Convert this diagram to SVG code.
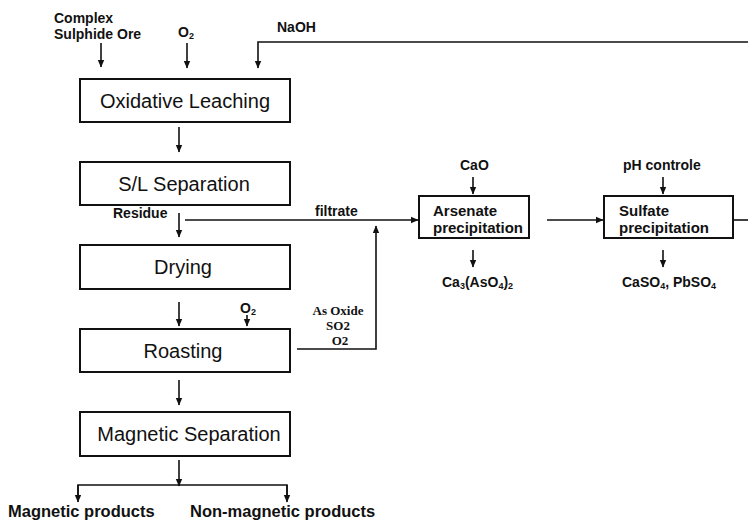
<svg xmlns="http://www.w3.org/2000/svg" width="748" height="526" viewBox="0 0 748 526">
<defs>
<marker id="ah" markerWidth="8" markerHeight="8" refX="7" refY="4" orient="auto" markerUnits="userSpaceOnUse">
<path d="M0,0.8 L7.5,4 L0,7.2 Z" fill="#111"/>
</marker>
<style>
.box{fill:#fff;stroke:#111;stroke-width:2}
.bt{font-family:"Liberation Sans",Arial,sans-serif;font-size:20px;fill:#111;text-anchor:middle}
.lb{font-family:"Liberation Sans",Arial,sans-serif;font-size:14px;font-weight:bold;fill:#111}
.pt{font-family:"Liberation Sans",Arial,sans-serif;font-size:15px;font-weight:bold;fill:#111}
.sf{font-family:"Liberation Serif","Times New Roman",serif;font-size:13px;font-weight:bold;fill:#111;text-anchor:middle}
.out{font-family:"Liberation Sans",Arial,sans-serif;font-size:16.5px;font-weight:bold;fill:#111}
.ln{fill:none;stroke:#111;stroke-width:1.6}
.ar{fill:none;stroke:#111;stroke-width:1.6;marker-end:url(#ah)}
.sub{font-size:9px}
</style>
</defs>
<rect width="748" height="526" fill="#fff"/>

<g id="connectors">
<path class="ar" d="M101,43 V67"/>
<path class="ar" d="M187,43 V68"/>
<path class="ar" d="M748,42 H258 V68"/>
<path class="ar" d="M179,127 V152"/>
<path class="ar" d="M179,213 V237"/>
<path class="ar" d="M179,302 V326"/>
<path class="ar" d="M247,315 V326"/>
<path class="ar" d="M179,380 V405"/>
<path class="ar" d="M179,460 V486"/>
<path class="ln" d="M78,500 V485 H287 V500"/>
<path class="ar" d="M78,485 V502"/>
<path class="ar" d="M287,485 V502"/>
<path class="ar" d="M185,220 H418"/>
<path class="ar" d="M297,349 H376 V226"/>
<path class="ar" d="M473,177 V194"/>
<path class="ar" d="M473,250 V267"/>
<path class="ar" d="M547,220 H603"/>
<path class="ar" d="M663,177 V194"/>
<path class="ar" d="M663,250 V267"/>
<path class="ln" d="M733,220 H748"/>
</g>

<g id="input-ore"><text class="lb" x="54" y="23">Complex</text><text class="lb" x="54" y="39">Sulphide Ore</text></g>
<g id="input-o2"><text class="lb" x="178" y="37">O<tspan class="sub" dy="2">2</tspan></text></g>
<g id="input-naoh"><text class="lb" x="277" y="32">NaOH</text></g>

<g id="oxidative-leaching"><rect class="box" x="80" y="79" width="210" height="43"/><text class="bt" x="185" y="108">Oxidative Leaching</text></g>
<g id="sl-separation"><rect class="box" x="80" y="162" width="210" height="43"/><text class="bt" x="184" y="191">S/L Separation</text></g>
<g id="residue-label"><text class="lb" x="113" y="218">Residue</text></g>
<g id="filtrate-label"><text class="lb" x="315" y="216">filtrate</text></g>
<g id="drying"><rect class="box" x="80" y="245" width="210" height="44"/><text class="bt" x="183" y="274">Drying</text></g>
<g id="o2-roast"><text class="lb" x="240" y="313">O<tspan class="sub" dy="2">2</tspan></text></g>
<g id="gas-label"><text class="sf" x="338" y="315">As Oxide</text><text class="sf" x="338" y="330">SO2</text><text class="sf" x="340" y="345">O2</text></g>
<g id="roasting"><rect class="box" x="80" y="329" width="210" height="43"/><text class="bt" x="183" y="358">Roasting</text></g>
<g id="magnetic-separation"><rect class="box" x="80" y="412" width="210" height="44"/><text class="bt" x="189" y="441">Magnetic Separation</text></g>
<g id="magnetic-products"><text class="out" x="8" y="517">Magnetic products</text></g>
<g id="non-magnetic-products"><text class="out" x="190" y="517">Non-magnetic products</text></g>

<g id="cao"><text class="lb" x="460" y="170">CaO</text></g>
<g id="arsenate"><rect class="box" x="419" y="196" width="110" height="42"/><text class="pt" x="433" y="216">Arsenate</text><text class="pt" x="433" y="233">precipitation</text></g>
<g id="ca-arsenate"><text class="lb" x="442" y="287">Ca<tspan class="sub" dy="2">3</tspan><tspan dy="-2">(AsO</tspan><tspan class="sub" dy="2">4</tspan><tspan dy="-2">)</tspan><tspan class="sub" dy="2">2</tspan></text></g>

<g id="ph-controle"><text class="lb" x="623" y="170">pH controle</text></g>
<g id="sulfate"><rect class="box" x="604" y="196" width="129" height="42"/><text class="pt" x="619" y="216">Sulfate</text><text class="pt" x="619" y="233">precipitation</text></g>
<g id="sulfates"><text class="lb" x="622" y="287">CaSO<tspan class="sub" dy="2">4</tspan><tspan dy="-2">, PbSO</tspan><tspan class="sub" dy="2">4</tspan></text></g>
</svg>
